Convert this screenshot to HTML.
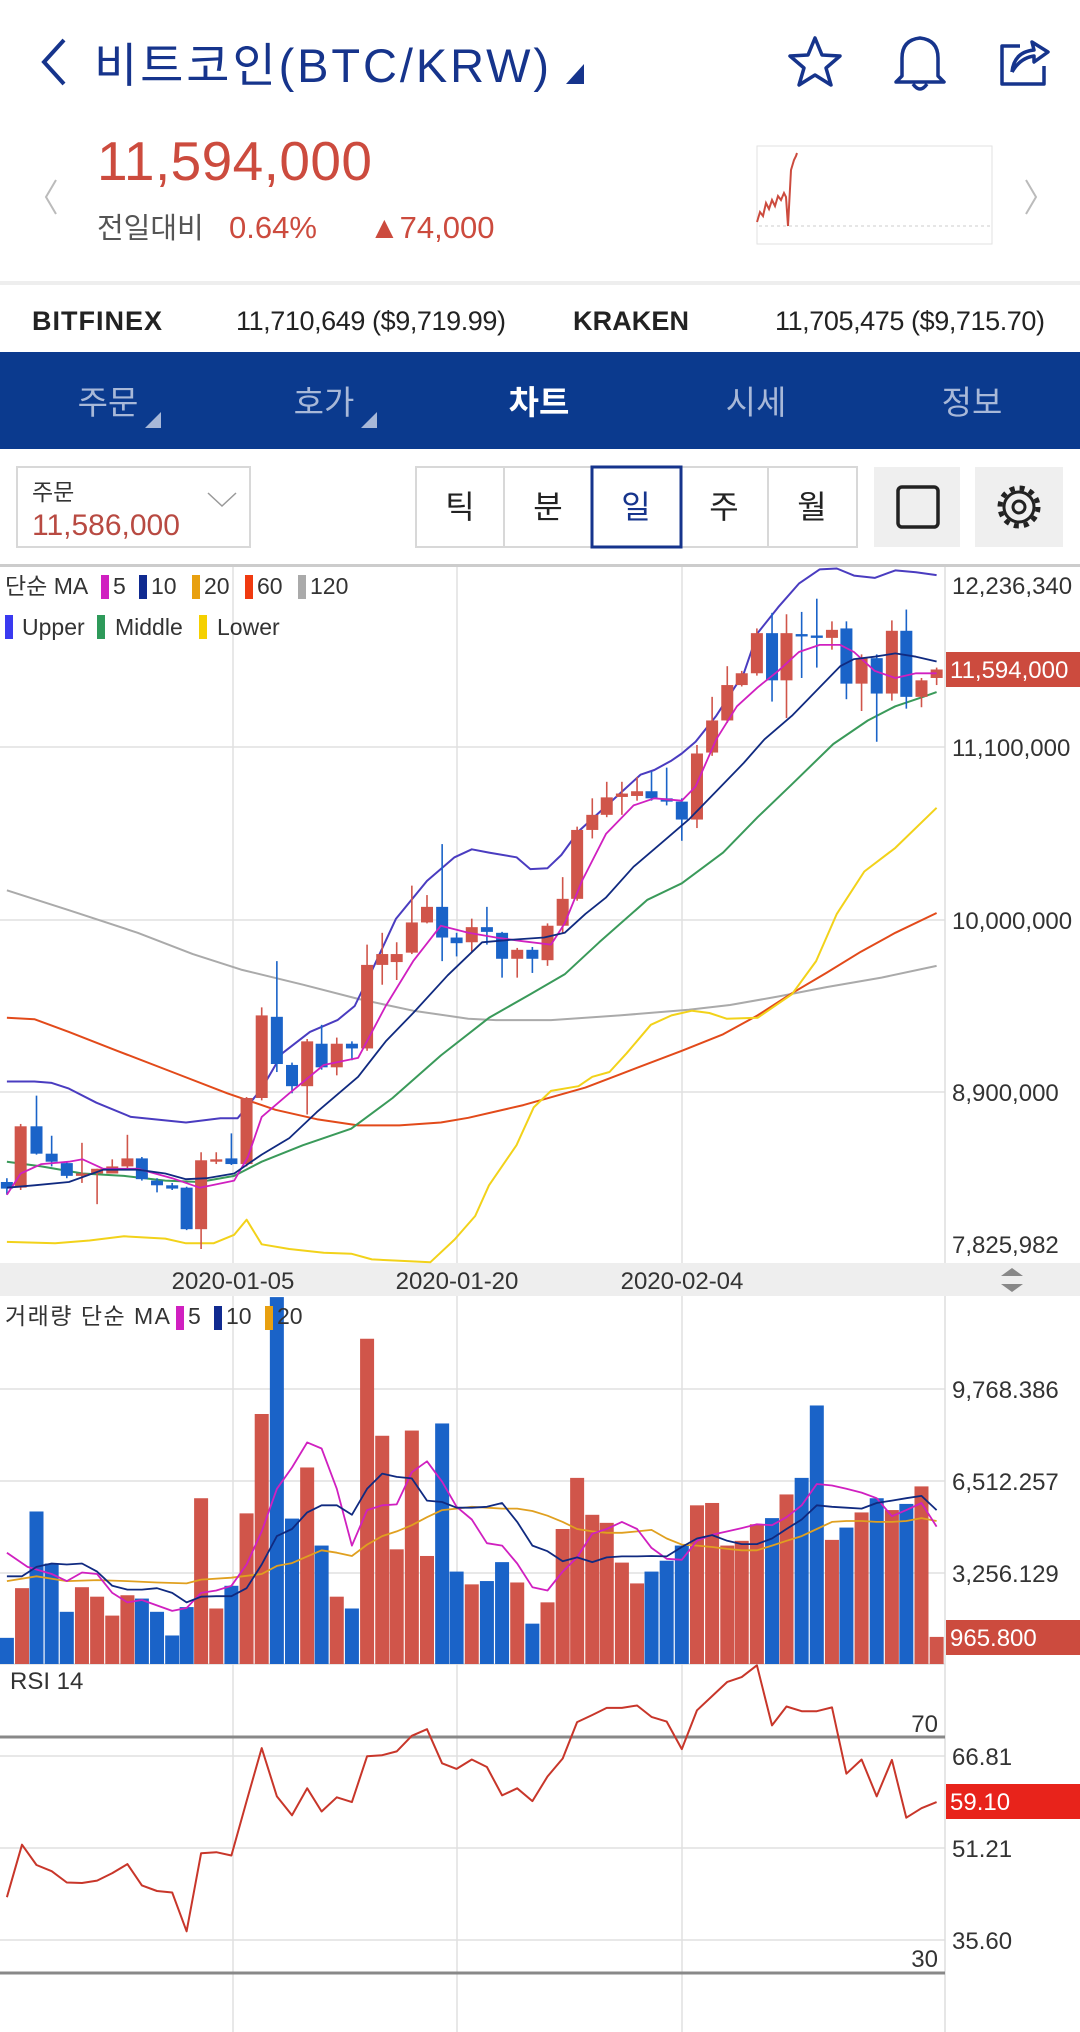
<!DOCTYPE html>
<html><head><meta charset="utf-8">
<style>
*{margin:0;padding:0;box-sizing:border-box}
body{width:1080px;height:2032px;background:#fff;position:relative;overflow:hidden;font-family:"Liberation Sans","Noto Sans CJK KR",sans-serif}
.a{position:absolute;white-space:nowrap}
</style></head><body>
<svg class="a" style="left:0;top:0" width="1080" height="2032" viewBox="0 0 1080 2032" id="s" font-family="Liberation Sans, Noto Sans CJK KR, sans-serif">
<!-- header -->
<polyline points="64,40 44,62 64,84" fill="none" stroke="#16348c" stroke-width="4"/>
<text x="94" y="82" font-size="47" fill="#16348c" textLength="455">비트코인(BTC/KRW)</text>
<polygon points="566,84 584,84 584,64" fill="#16348c"/>
<polygon points="815,38 822,55 840,56 826,68 831,85 815,75 799,85 804,68 790,56 808,55" fill="none" stroke="#16348c" stroke-width="3.5" stroke-linejoin="round"/>
<path d="M902,76 L902,58 Q902,40 920,38 Q938,40 938,58 L938,76 L944,82 L896,82 Z M913,84 Q920,94 927,84" fill="none" stroke="#16348c" stroke-width="3.5" stroke-linejoin="round"/>
<path d="M1020,46 L1002,46 L1002,84 L1044,84 L1044,66 M1012,72 Q1014,52 1034,50 L1032,42 L1048,52 L1034,62 L1034,56 Q1020,58 1012,72" fill="none" stroke="#16348c" stroke-width="3.5" stroke-linejoin="round"/>
<text x="97" y="180" font-size="55" fill="#cc4b3e" textLength="275">11,594,000</text>
<polyline points="56,180 46,197 56,214" fill="none" stroke="#bbb" stroke-width="2"/>
<polyline points="1026,180 1036,197 1026,214" fill="none" stroke="#bbb" stroke-width="2"/>
<text x="97" y="238" font-size="29" fill="#555">전일대비</text>
<text x="229" y="238" font-size="31" fill="#cc4b3e">0.64%</text>
<text x="369" y="238" font-size="31" fill="#cc4b3e">▲74,000</text>
<rect x="757" y="146" width="235" height="98" fill="#fff" stroke="#e2e2e2"/>
<line x1="759" y1="226" x2="990" y2="226" stroke="#ccc" stroke-dasharray="3,3"/>
<polyline points="757,222 760,212 763,216 766,203 769,209 772,200 775,206 778,196 781,200 784,193 786,197 788,226 791,170 794,160 796,156 797,153" fill="none" stroke="#cc4b3e" stroke-width="2"/>
<rect x="0" y="281" width="1080" height="4" fill="#eee"/>
<text x="32" y="330" font-size="27" font-weight="bold" fill="#222" textLength="130">BITFINEX</text>
<text x="236" y="330" font-size="27" fill="#222" textLength="270">11,710,649 ($9,719.99)</text>
<text x="573" y="330" font-size="27" font-weight="bold" fill="#222" textLength="116">KRAKEN</text>
<text x="775" y="330" font-size="27" fill="#222" textLength="270">11,705,475 ($9,715.70)</text>
<!-- nav -->
<rect x="0" y="352" width="1080" height="97" fill="#0b3a8e"/>
<g font-size="33" text-anchor="middle">
<text x="108" y="414" fill="#a8b8d8">주문</text>
<text x="324" y="414" fill="#a8b8d8">호가</text>
<text x="539" y="414" fill="#fff" font-weight="bold">차트</text>
<text x="756" y="414" fill="#a8b8d8">시세</text>
<text x="972" y="414" fill="#a8b8d8">정보</text></g>
<polygon points="145,428 161,428 161,412" fill="#a8b8d8"/>
<polygon points="361,428 377,428 377,412" fill="#a8b8d8"/>
<!-- controls -->
<rect x="17" y="467" width="233" height="80" fill="#fff" stroke="#d8d8d8" stroke-width="2"/>
<text x="32" y="500" font-size="23" fill="#333">주문</text>
<text x="32" y="535" font-size="30" fill="#b84a42">11,586,000</text>
<polyline points="208,493 222,506 236,493" fill="none" stroke="#999" stroke-width="1.5"/>
<rect x="416" y="467" width="441" height="80" fill="#fff" stroke="#d8d8d8" stroke-width="2"/>
<g stroke="#d8d8d8" stroke-width="2"><line x1="504" y1="467" x2="504" y2="547"/><line x1="680" y1="467" x2="680" y2="547"/><line x1="768" y1="467" x2="768" y2="547"/></g>
<rect x="592" y="467" width="89" height="80" fill="#fff" stroke="#16348c" stroke-width="3"/>
<g font-size="32" text-anchor="middle" fill="#222">
<text x="460" y="518">틱</text><text x="548" y="518">분</text><text x="636" y="518" fill="#16348c">일</text><text x="724" y="518">주</text><text x="812" y="518">월</text></g>
<rect x="874" y="467" width="86" height="80" fill="#efefef"/>
<rect x="898" y="487" width="40" height="40" rx="4" fill="none" stroke="#222" stroke-width="3.5"/>
<rect x="975" y="467" width="88" height="80" fill="#efefef"/>
<circle cx="1019" cy="507" r="15" fill="none" stroke="#222" stroke-width="3"/>
<circle cx="1019" cy="507" r="6" fill="none" stroke="#222" stroke-width="3"/>
<circle cx="1019" cy="507" r="19" fill="none" stroke="#222" stroke-width="5" stroke-dasharray="5,5"/>
<!-- chart frame -->
<rect x="0" y="564" width="1080" height="3" fill="#ccc"/>
<g stroke="#e0e0e0" stroke-width="1.5">
<line x1="0" y1="747" x2="945" y2="747"/><line x1="0" y1="920" x2="945" y2="920"/><line x1="0" y1="1092" x2="945" y2="1092"/>
<line x1="233" y1="567" x2="233" y2="2032"/><line x1="457" y1="567" x2="457" y2="2032"/><line x1="682" y1="567" x2="682" y2="2032"/>
<line x1="0" y1="1389" x2="945" y2="1389"/><line x1="0" y1="1481" x2="945" y2="1481"/><line x1="0" y1="1573" x2="945" y2="1573"/>
<line x1="0" y1="1756" x2="945" y2="1756"/><line x1="0" y1="1848" x2="945" y2="1848"/><line x1="0" y1="1940" x2="945" y2="1940"/>
</g>
<line x1="945" y1="567" x2="945" y2="2032" stroke="#ddd" stroke-width="1.5"/>
<rect x="0" y="1263" width="1080" height="33" fill="#eee"/>
<line x1="0" y1="1664" x2="945" y2="1664" stroke="#ddd" stroke-width="1.5"/>
<line x1="0" y1="1737" x2="945" y2="1737" stroke="#888" stroke-width="3"/>
<line x1="0" y1="1973" x2="945" y2="1973" stroke="#888" stroke-width="3"/>
<g id="plot"></g>
<!-- labels -->
<g font-size="24" fill="#333">
<text x="952" y="594">12,236,340</text>
<text x="952" y="756">11,100,000</text>
<text x="952" y="929">10,000,000</text>
<text x="952" y="1101">8,900,000</text>
<text x="952" y="1253">7,825,982</text>
<text x="952" y="1398">9,768.386</text>
<text x="952" y="1490">6,512.257</text>
<text x="952" y="1582">3,256.129</text>
<text x="952" y="1765">66.81</text>
<text x="952" y="1857">51.21</text>
<text x="952" y="1949">35.60</text>
<text x="938" y="1732" text-anchor="end">70</text>
<text x="938" y="1967" text-anchor="end">30</text>
<text x="10" y="1689">RSI 14</text>
<g text-anchor="middle"><text x="233" y="1289">2020-01-05</text><text x="457" y="1289">2020-01-20</text><text x="682" y="1289">2020-02-04</text></g>
</g>
<polygon points="1001,1276 1023,1276 1012,1268" fill="#888"/><polygon points="1001,1284 1023,1284 1012,1292" fill="#888"/>
<rect x="946" y="652" width="134" height="35" fill="#cc4b3e"/>
<text x="950" y="678" font-size="24" fill="#fff">11,594,000</text>
<rect x="946" y="1620" width="134" height="35" fill="#cc4b3e"/>
<text x="950" y="1646" font-size="24" fill="#fff">965.800</text>
<rect x="946" y="1784" width="134" height="35" fill="#e8231b"/>
<text x="950" y="1810" font-size="24" fill="#fff">59.10</text>
<!-- legends -->
<g font-size="23" fill="#333">
<text x="5" y="594">단순 MA</text>
<rect x="101" y="575" width="8" height="24" fill="#d020c0"/><text x="113" y="594">5</text>
<rect x="139" y="575" width="8" height="24" fill="#102a90"/><text x="151" y="594">10</text>
<rect x="192" y="575" width="8" height="24" fill="#e8a010"/><text x="204" y="594">20</text>
<rect x="245" y="575" width="8" height="24" fill="#f03a10"/><text x="257" y="594">60</text>
<rect x="298" y="575" width="8" height="24" fill="#aaa"/><text x="310" y="594">120</text>
<rect x="5" y="615" width="8" height="24" fill="#3a3af0"/><text x="22" y="635">Upper</text>
<rect x="97" y="615" width="8" height="24" fill="#2e9a5a"/><text x="115" y="635">Middle</text>
<rect x="199" y="615" width="8" height="24" fill="#f5d000"/><text x="217" y="635">Lower</text>
</g>
<g font-size="23" fill="#333">
<text x="5" y="1324" textLength="165">거래량 단순 MA</text>
<rect x="176" y="1306" width="8" height="24" fill="#d020c0"/><text x="188" y="1324">5</text>
<rect x="214" y="1306" width="8" height="24" fill="#102a90"/><text x="226" y="1324">10</text>
<rect x="265" y="1306" width="8" height="24" fill="#e8a010"/><text x="277" y="1324">20</text>
</g>
</svg>
<script>
var NS="http://www.w3.org/2000/svg",g=document.getElementById('plot');
function el(t,a){var e=document.createElementNS(NS,t);for(var k in a)e.setAttribute(k,a[k]);g.appendChild(e);return e;}
function X(d){return d/1.452}
function Y2(d){return 560+d/2.119}
function Y3(d){return 1290+d/2.113}
var RED="#d0554a",BLUE="#1a63c8";
var C=[[10,'b',1318,1332,1310,1345],[30,'r',1200,1330,1195,1335],[53,'b',1200,1258,1135,1260],[75,'b',1258,1275,1220,1285],[97,'b',1278,1305,1275,1310],[119,'r',1300,1305,1235,1320],[141,'r',1290,1300,1290,1365],[163,'r',1285,1300,1270,1300],[185,'r',1268,1285,1218,1290],[206,'b',1268,1312,1265,1315],[228,'b',1315,1325,1310,1340],[250,'b',1325,1332,1320,1335],[271,'b',1330,1418,1328,1420],[292,'r',1272,1418,1255,1460],[314,'r',1270,1275,1255,1280],[336,'b',1268,1280,1215,1282],[358,'r',1140,1280,1138,1285],[380,'r',965,1140,948,1145],[402,'b',968,1068,850,1085],[424,'b',1070,1115,1065,1130],[446,'r',1020,1115,1015,1175],[467,'b',1025,1075,985,1080],[489,'r',1025,1075,1012,1092],[511,'b',1025,1035,1020,1060],[533,'r',858,1035,815,1040],[555,'r',835,858,790,900],[576,'r',835,852,810,890],[598,'r',768,832,690,835],[620,'r',735,768,710,770],[642,'b',735,800,602,850],[663,'b',800,812,790,840],[685,'r',778,810,760,830],[707,'b',778,788,735,815],[729,'b',790,845,788,885],[751,'r',826,845,822,885],[773,'b',826,845,820,875],[795,'r',775,848,770,860],[817,'r',718,775,672,790],[838,'r',572,718,565,722],[860,'r',540,572,505,590],[881,'r',503,540,470,545],[903,'r',497,500,470,540],[925,'r',490,500,460,510],[946,'b',490,505,448,510],[968,'b',505,512,440,520],[990,'b',512,550,505,595],[1012,'r',410,550,392,568],[1034,'r',340,408,290,415],[1056,'r',265,340,225,345],[1077,'r',240,265,235,268],[1099,'r',155,240,145,245],[1121,'b',155,255,112,300],[1142,'r',155,255,115,335],[1164,'b',157,162,110,250],[1186,'b',160,165,82,228],[1208,'r',148,165,130,190],[1229,'b',145,262,130,295],[1251,'r',208,262,200,320],[1273,'b',208,283,200,385],[1295,'r',150,283,128,298],[1316,'b',150,290,105,315],[1338,'r',255,290,250,312],[1360,'r',232,250,228,265]];
function line(pts,col,w,fx,fy){el('polyline',{points:pts.map(function(p){return fx(p[0]).toFixed(1)+','+fy(p[1]).toFixed(1)}).join(' '),fill:'none',stroke:col,'stroke-width':w,'stroke-linejoin':'round'});}
line([[10,700],[100,742],[200,790],[280,835],[350,868],[440,900],[520,930],[600,955],[680,972],[720,975],[800,975],[900,965],[1000,953],[1060,943],[1130,925],[1200,905],[1280,885],[1360,860]],'#aaa',2,X,Y2);
line([[10,970],[50,973],[100,1000],[170,1040],[250,1085],[330,1130],[400,1165],[460,1185],[520,1198],[580,1198],[640,1192],[680,1182],[760,1155],[850,1118],[900,1090],[990,1040],[1050,1005],[1100,965],[1150,918],[1200,875],[1250,830],[1300,790],[1360,748]],'#e24a1a',2,X,Y2);
line([[10,1445],[80,1448],[130,1442],[180,1433],[240,1438],[270,1448],[310,1448],[340,1430],[358,1398],[380,1450],[420,1460],[470,1468],[510,1470],[540,1482],[580,1485],[625,1488],[660,1440],[690,1390],[710,1325],[750,1240],[775,1160],[800,1125],[840,1115],[860,1095],[885,1085],[910,1045],[945,985],[975,965],[1005,955],[1030,960],[1055,972],[1100,970],[1150,920],[1185,850],[1215,750],[1255,660],[1300,610],[1360,525]],'#f2d21a',2,X,Y2);
line([[10,1275],[60,1285],[120,1300],[180,1305],[240,1315],[290,1318],[340,1305],[380,1275],[440,1240],[510,1205],[570,1140],[640,1050],[710,970],[770,920],[820,878],[870,810],[940,720],[990,685],[1050,620],[1100,545],[1150,475],[1210,390],[1260,340],[1300,310],[1340,290],[1360,280]],'#3a9a5a',2,X,Y2);
line([[10,1105],[50,1105],[75,1108],[100,1120],[140,1150],[190,1180],[270,1192],[320,1183],[345,1183],[380,1120],[410,1045],[450,1000],[490,975],[515,945],[540,870],[575,760],[620,680],[660,630],[685,613],[710,620],[750,630],[770,655],[795,653],[815,625],[840,575],[870,535],[900,495],[930,455],[950,445],[975,425],[990,410],[1010,385],[1040,330],[1080,240],[1100,155],[1130,100],[1160,50],[1190,20],[1215,18],[1240,33],[1270,38],[1300,22],[1330,26],[1360,32]],'#4a3cc0',2,X,Y2);
C.forEach(function(c){var col=c[1]=='r'?RED:BLUE,x=X(c[0]);
el('line',{x1:x,x2:x,y1:Y2(c[4]),y2:Y2(c[5]),stroke:col,'stroke-width':1.6});
var t=Y2(c[2]),b=Y2(c[3]);if(b-t<2){t-=1;b+=1}
el('rect',{x:x-6,y:t,width:12,height:b-t,fill:col});});
line([[10,1345],[30,1300],[60,1280],[100,1275],[120,1270],[150,1290],[200,1290],[250,1310],[290,1330],[340,1315],[360,1265],[380,1180],[420,1130],[470,1070],[520,1055],[560,945],[600,850],[640,775],[680,790],[720,800],[760,808],[800,815],[820,770],[845,680],[880,580],[920,520],[950,505],[990,510],[1010,480],[1040,380],[1070,310],[1100,270],[1130,235],[1160,195],[1190,180],[1220,180],[1240,195],[1270,235],[1300,250],[1330,240],[1360,240]],'#d020c0',1.8,X,Y2);
line([[10,1330],[50,1325],[100,1318],[150,1292],[200,1292],[240,1300],[270,1312],[300,1310],[340,1300],[380,1260],[420,1225],[460,1170],[520,1095],[560,1020],[600,960],[650,880],[700,810],[740,805],[790,800],[820,790],[850,750],[880,715],[920,650],[960,600],[1000,550],[1040,490],[1080,430],[1110,380],[1150,330],[1190,270],[1220,225],[1240,210],[1270,205],[1300,198],[1330,205],[1360,215]],'#102a80',1.8,X,Y2);
var V=[[10,'b',735],[32,'r',630],[53,'b',468],[75,'b',578],[97,'b',680],[119,'r',628],[141,'r',648],[163,'r',688],[185,'r',645],[206,'b',652],[228,'b',680],[250,'b',730],[271,'b',670],[292,'r',440],[314,'r',673],[336,'b',625],[358,'r',472],[380,'r',262],[402,'b',15],[424,'b',483],[446,'r',375],[467,'b',540],[489,'r',648],[511,'b',673],[533,'r',103],[555,'r',308],[576,'r',548],[598,'r',297],[620,'r',562],[642,'b',282],[663,'b',595],[685,'r',622],[707,'b',615],[729,'b',575],[751,'r',618],[773,'b',705],[795,'r',660],[817,'r',505],[838,'r',397],[860,'r',475],[881,'r',492],[903,'r',576],[925,'r',620],[946,'b',595],[968,'b',572],[990,'b',540],[1012,'r',455],[1034,'r',450],[1056,'r',540],[1077,'r',530],[1099,'r',495],[1121,'b',482],[1142,'r',432],[1164,'b',397],[1186,'b',244],[1208,'r',528],[1229,'b',502],[1251,'r',470],[1273,'b',440],[1295,'r',465],[1316,'b',452],[1338,'r',415],[1360,'r',733]];
V.forEach(function(v){var x=X(v[0]),t=Y3(v[2]);el('rect',{x:x-7,y:t,width:14,height:1664-t,fill:v[1]=='r'?RED:BLUE});});
line([[10,615],[53,605],[97,615],[141,613],[185,615],[228,618],[271,620],[292,612],[336,608],[380,600],[402,583],[424,577],[446,563],[467,550],[489,555],[511,562],[533,538],[555,520],[576,510],[598,497],[620,480],[642,465],[663,462],[685,458],[707,460],[729,462],[751,462],[773,467],[795,477],[817,490],[838,505],[860,510],[881,513],[903,513],[925,510],[946,507],[968,525],[990,538],[1012,540],[1034,543],[1056,547],[1077,550],[1099,550],[1121,540],[1142,530],[1164,520],[1186,505],[1208,490],[1229,488],[1251,488],[1273,490],[1295,490],[1316,488],[1338,482],[1360,488]],'#e0a020',1.8,X,Y3);
line([[10,555],[40,585],[75,600],[97,615],[119,597],[141,600],[163,640],[185,660],[206,655],[250,678],[271,672],[292,640],[314,635],[336,625],[358,580],[380,510],[402,420],[424,375],[446,322],[467,335],[489,420],[511,540],[533,465],[555,455],[576,453],[598,385],[620,362],[642,405],[663,458],[685,485],[707,535],[729,540],[751,578],[773,628],[795,635],[817,595],[838,565],[860,515],[881,505],[903,490],[925,505],[946,545],[968,568],[990,570],[1012,530],[1034,517],[1056,510],[1077,503],[1099,495],[1121,497],[1142,480],[1164,455],[1186,410],[1208,413],[1229,420],[1251,428],[1273,440],[1295,478],[1316,465],[1338,450],[1360,500]],'#d020c0',1.8,X,Y3);
line([[10,605],[32,605],[53,585],[75,578],[97,580],[119,578],[141,595],[163,625],[185,633],[206,633],[228,630],[250,640],[271,660],[292,648],[314,647],[336,647],[358,630],[380,580],[402,520],[424,505],[446,470],[467,455],[489,455],[511,475],[533,420],[555,388],[576,395],[598,398],[620,445],[642,448],[663,460],[685,460],[707,458],[729,450],[751,490],[773,540],[795,552],[817,573],[838,565],[860,575],[881,565],[903,563],[925,563],[946,562],[968,563],[990,543],[1012,525],[1034,518],[1056,530],[1077,537],[1099,537],[1121,525],[1142,505],[1164,485],[1186,455],[1208,458],[1229,460],[1251,462],[1273,450],[1295,445],[1316,440],[1338,435],[1360,465]],'#102a80',1.8,X,Y3);
line([[10,1283],[32,1172],[53,1215],[75,1228],[97,1252],[119,1253],[141,1248],[163,1232],[185,1213],[206,1258],[228,1270],[250,1273],[271,1355],[292,1190],[314,1188],[336,1195],[358,1080],[380,968],[402,1070],[424,1110],[446,1053],[467,1102],[489,1072],[511,1082],[533,985],[555,983],[576,975],[598,942],[620,928],[642,1000],[663,1012],[685,992],[707,1008],[729,1068],[751,1053],[773,1080],[795,1028],[817,990],[838,913],[860,898],[881,883],[903,883],[925,878],[946,902],[968,912],[990,970],[1012,888],[1034,858],[1056,828],[1077,818],[1099,793],[1121,920],[1142,880],[1164,890],[1186,890],[1208,882],[1229,1022],[1251,992],[1273,1070],[1295,993],[1316,1115],[1338,1095],[1360,1082]],'#c8362a',2,X,Y3);
</script>
</body></html>
